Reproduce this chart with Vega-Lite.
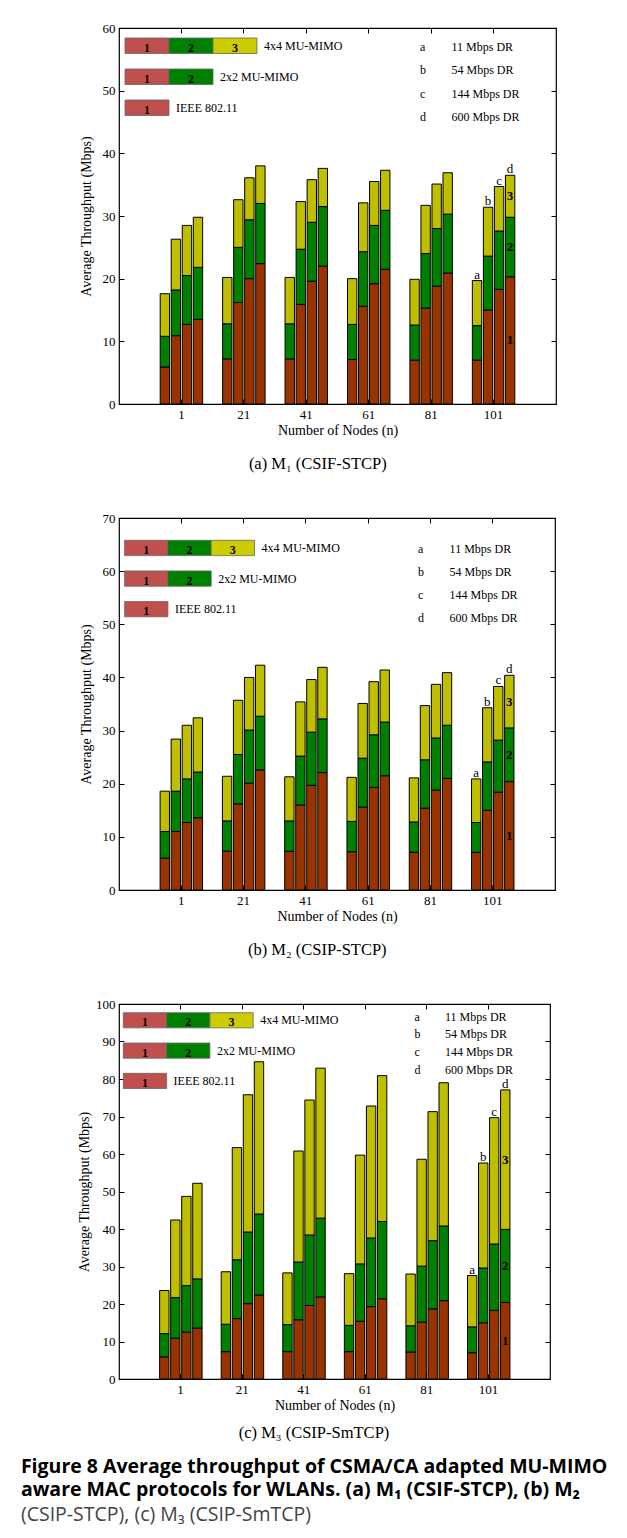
{
"$schema":"https://vega.github.io/schema/vega-lite/v6.json",
"background":"white",
"padding":{"left":20,"top":21,"right":5,"bottom":5},
"spacing":37,
"title":{"text":["Figure 8 Average throughput of CSMA/CA adapted MU-MIMO","aware MAC protocols for WLANs. (a) M₁ (CSIF-STCP), (b) M₂"],"subtitle":"(CSIP-STCP), (c) M₃ (CSIP-SmTCP)","orient":"bottom","anchor":"start","frame":"bounds","dx":-56,"offset":16,"font":"Open Sans","fontSize":19.5,"fontWeight":"bold","lineHeight":23,"color":"black","subtitleFont":"Open Sans","subtitleFontSize":19.5,"subtitleColor":"#444","subtitlePadding":5},
"vconcat":[
{"width":437,"height":376,
 "title":{"text":"(a)  M₁  (CSIF-STCP)","orient":"bottom","anchor":"middle","frame":"bounds","offset":19,"font":"Liberation Serif","fontSize":16.5,"fontWeight":"normal","color":"black"},
 "layer":[
  {"data":{"name":"tp"},"transform":[{"filter":"datum.p == 'a'"}],
   "layer":[
    {"transform":[{"fold":["1","2","3"],"as":["seg","v"]}],
     "mark":{"type":"bar","stroke":"black","strokeWidth":1},
     "encoding":{
      "x":{"field":"n","type":"ordinal","scale":{"paddingInner":0.32,"paddingOuter":0.66},"title":"Number of Nodes (n)","axis":{"labelAngle":0}},
      "xOffset":{"field":"dr","type":"nominal","scale":{"paddingInner":0.15}},
      "y":{"field":"v","type":"quantitative","stack":"zero","scale":{"domain":[0,60],"nice":false},"title":"Average Throughput (Mbps)","axis":{"values":[0,10,20,30,40,50,60],"titlePadding":9}},
      "color":{"field":"seg","type":"nominal","scale":{"domain":["1","2","3"],"range":["#993300","#008000","#BFBF00"]},"legend":null},
      "order":{"field":"seg","type":"ordinal"}}},
    {"transform":[{"filter":"datum.n == 101"},{"fold":["1","2","3"],"as":["seg","v"]},{"aggregate":[{"op":"sum","field":"v","as":"total"}],"groupby":["n","dr"]}],
     "mark":{"type":"text","baseline":"bottom","dy":1,"fontSize":13,"color":"black"},
     "encoding":{
      "x":{"field":"n","type":"ordinal","axis":{"orient":"top","labels":false,"title":null}},
      "xOffset":{"field":"dr","type":"nominal"},
      "y":{"field":"total","type":"quantitative","axis":{"orient":"right","labels":false,"title":null,"values":[0,10,20,30,40,50,60]}},
      "text":{"field":"dr"}}},
    {"transform":[{"filter":"datum.n == 101 && datum.dr == 'd'"},{"fold":["1","2","3"],"as":["seg","v"]}],
     "mark":{"type":"text","fontSize":13,"fontWeight":"bold","baseline":"middle","color":"black"},
     "encoding":{
      "x":{"field":"n","type":"ordinal","axis":null},
      "xOffset":{"field":"dr","type":"nominal"},
      "y":{"field":"v","type":"quantitative","stack":"zero","bandPosition":0.5,"axis":null},
      "detail":{"field":"seg"},
      "order":{"field":"seg","type":"ordinal"},
      "text":{"field":"seg"}}}
   ],
   "resolve":{"axis":{"x":"independent","y":"independent"}}},
  {"data":{"name":"protos"},
   "layer":[
    {"mark":{"type":"rect","stroke":"#666","strokeWidth":0.8},
     "encoding":{
      "x":{"field":"seg","type":"ordinal","scale":{"type":"band","domain":[1,2,3],"range":[6,138],"paddingInner":0,"paddingOuter":0},"axis":null},
      "y":{"field":"proto","type":"nominal","scale":{"type":"band","domain":["4x4 MU-MIMO","2x2 MU-MIMO","IEEE 802.11"],"range":[10,87.5],"paddingInner":0.5,"paddingOuter":0},"axis":null},
      "color":{"field":"seg","type":"nominal","scale":{"domain":[1,2,3],"range":["#C0504D","#008000","#CCCC00"]},"legend":null}}},
    {"mark":{"type":"text","fontWeight":"bold","fontSize":12,"dy":2,"color":"black"},
     "encoding":{"x":{"field":"seg","type":"ordinal","axis":null},"y":{"field":"proto","type":"nominal","axis":null},"text":{"field":"seg"}}},
    {"transform":[{"aggregate":[{"op":"max","field":"seg","as":"last"}],"groupby":["proto"]}],
     "mark":{"type":"text","align":"left","dx":7,"fontSize":12,"color":"black"},
     "encoding":{"x":{"field":"last","type":"ordinal","bandPosition":1,"axis":null},"y":{"field":"proto","type":"nominal","axis":null},"text":{"field":"proto"}}}
   ]},
  {"data":{"name":"rates"},"transform":[{"fold":["dr","rate"],"as":["col","txt"]}],
   "mark":{"type":"text","align":"left","baseline":"middle","fontSize":12,"color":"black"},
   "encoding":{
    "x":{"field":"col","type":"nominal","scale":{"type":"point","domain":["dr","rate"],"range":[301,332.5],"padding":0},"axis":null},
    "y":{"field":"dr","type":"nominal","scale":{"type":"point","domain":["a","b","c","d"],"range":[19.3,88.7],"padding":0},"axis":null},
    "text":{"field":"txt"}}}
 ],
 "resolve":{"scale":{"x":"independent","y":"independent","color":"independent"}}},
{"width":436,"height":372,
 "title":{"text":"(b)  M₂  (CSIP-STCP)","orient":"bottom","anchor":"middle","frame":"bounds","offset":19,"font":"Liberation Serif","fontSize":16.5,"fontWeight":"normal","color":"black"},
 "layer":[
  {"data":{"name":"tp"},"transform":[{"filter":"datum.p == 'b'"}],
   "layer":[
    {"transform":[{"fold":["1","2","3"],"as":["seg","v"]}],
     "mark":{"type":"bar","stroke":"black","strokeWidth":1},
     "encoding":{
      "x":{"field":"n","type":"ordinal","scale":{"paddingInner":0.32,"paddingOuter":0.66},"title":"Number of Nodes (n)","axis":{"labelAngle":0}},
      "xOffset":{"field":"dr","type":"nominal","scale":{"paddingInner":0.15}},
      "y":{"field":"v","type":"quantitative","stack":"zero","scale":{"domain":[0,70],"nice":false},"title":"Average Throughput (Mbps)","axis":{"values":[0,10,20,30,40,50,60,70],"titlePadding":9}},
      "color":{"field":"seg","type":"nominal","scale":{"domain":["1","2","3"],"range":["#993300","#008000","#BFBF00"]},"legend":null},
      "order":{"field":"seg","type":"ordinal"}}},
    {"transform":[{"filter":"datum.n == 101"},{"fold":["1","2","3"],"as":["seg","v"]},{"aggregate":[{"op":"sum","field":"v","as":"total"}],"groupby":["n","dr"]}],
     "mark":{"type":"text","baseline":"bottom","dy":1,"fontSize":13,"color":"black"},
     "encoding":{
      "x":{"field":"n","type":"ordinal","axis":{"orient":"top","labels":false,"title":null}},
      "xOffset":{"field":"dr","type":"nominal"},
      "y":{"field":"total","type":"quantitative","axis":{"orient":"right","labels":false,"title":null,"values":[0,10,20,30,40,50,60,70]}},
      "text":{"field":"dr"}}},
    {"transform":[{"filter":"datum.n == 101 && datum.dr == 'd'"},{"fold":["1","2","3"],"as":["seg","v"]}],
     "mark":{"type":"text","fontSize":13,"fontWeight":"bold","baseline":"middle","color":"black"},
     "encoding":{
      "x":{"field":"n","type":"ordinal","axis":null},
      "xOffset":{"field":"dr","type":"nominal"},
      "y":{"field":"v","type":"quantitative","stack":"zero","bandPosition":0.5,"axis":null},
      "detail":{"field":"seg"},
      "order":{"field":"seg","type":"ordinal"},
      "text":{"field":"seg"}}}
   ],
   "resolve":{"axis":{"x":"independent","y":"independent"}}},
  {"data":{"name":"protos"},
   "layer":[
    {"mark":{"type":"rect","stroke":"#666","strokeWidth":0.8},
     "encoding":{
      "x":{"field":"seg","type":"ordinal","scale":{"type":"band","domain":[1,2,3],"range":[5.6,135.5],"paddingInner":0,"paddingOuter":0},"axis":null},
      "y":{"field":"proto","type":"nominal","scale":{"type":"band","domain":["4x4 MU-MIMO","2x2 MU-MIMO","IEEE 802.11"],"range":[22.3,98.8],"paddingInner":0.5,"paddingOuter":0},"axis":null},
      "color":{"field":"seg","type":"nominal","scale":{"domain":[1,2,3],"range":["#C0504D","#008000","#CCCC00"]},"legend":null}}},
    {"mark":{"type":"text","fontWeight":"bold","fontSize":12,"dy":2,"color":"black"},
     "encoding":{"x":{"field":"seg","type":"ordinal","axis":null},"y":{"field":"proto","type":"nominal","axis":null},"text":{"field":"seg"}}},
    {"transform":[{"aggregate":[{"op":"max","field":"seg","as":"last"}],"groupby":["proto"]}],
     "mark":{"type":"text","align":"left","dx":7,"fontSize":12,"color":"black"},
     "encoding":{"x":{"field":"last","type":"ordinal","bandPosition":1,"axis":null},"y":{"field":"proto","type":"nominal","axis":null},"text":{"field":"proto"}}}
   ]},
  {"data":{"name":"rates"},"transform":[{"fold":["dr","rate"],"as":["col","txt"]}],
   "mark":{"type":"text","align":"left","baseline":"middle","fontSize":12,"color":"black"},
   "encoding":{
    "x":{"field":"col","type":"nominal","scale":{"type":"point","domain":["dr","rate"],"range":[299,330.6],"padding":0},"axis":null},
    "y":{"field":"dr","type":"nominal","scale":{"type":"point","domain":["a","b","c","d"],"range":[31.3,99.7],"padding":0},"axis":null},
    "text":{"field":"txt"}}}
 ],
 "resolve":{"scale":{"x":"independent","y":"independent","color":"independent"}}},
{"width":431,"height":375,
 "title":{"text":"(c)  M₃  (CSIP-SmTCP)","orient":"bottom","anchor":"middle","frame":"bounds","offset":13,"font":"Liberation Serif","fontSize":16.5,"fontWeight":"normal","color":"black"},
 "layer":[
  {"data":{"name":"tp"},"transform":[{"filter":"datum.p == 'c'"}],
   "layer":[
    {"transform":[{"fold":["1","2","3"],"as":["seg","v"]}],
     "mark":{"type":"bar","stroke":"black","strokeWidth":1},
     "encoding":{
      "x":{"field":"n","type":"ordinal","scale":{"paddingInner":0.32,"paddingOuter":0.66},"title":"Number of Nodes (n)","axis":{"labelAngle":0}},
      "xOffset":{"field":"dr","type":"nominal","scale":{"paddingInner":0.15}},
      "y":{"field":"v","type":"quantitative","stack":"zero","scale":{"domain":[0,100],"nice":false},"title":"Average Throughput (Mbps)","axis":{"values":[0,10,20,30,40,50,60,70,80,90,100],"titlePadding":4}},
      "color":{"field":"seg","type":"nominal","scale":{"domain":["1","2","3"],"range":["#993300","#008000","#BFBF00"]},"legend":null},
      "order":{"field":"seg","type":"ordinal"}}},
    {"transform":[{"filter":"datum.n == 101"},{"fold":["1","2","3"],"as":["seg","v"]},{"aggregate":[{"op":"sum","field":"v","as":"total"}],"groupby":["n","dr"]}],
     "mark":{"type":"text","baseline":"bottom","dy":1,"fontSize":13,"color":"black"},
     "encoding":{
      "x":{"field":"n","type":"ordinal","axis":{"orient":"top","labels":false,"title":null}},
      "xOffset":{"field":"dr","type":"nominal"},
      "y":{"field":"total","type":"quantitative","axis":{"orient":"right","labels":false,"title":null,"values":[0,10,20,30,40,50,60,70,80,90,100]}},
      "text":{"field":"dr"}}},
    {"transform":[{"filter":"datum.n == 101 && datum.dr == 'd'"},{"fold":["1","2","3"],"as":["seg","v"]}],
     "mark":{"type":"text","fontSize":13,"fontWeight":"bold","baseline":"middle","color":"black"},
     "encoding":{
      "x":{"field":"n","type":"ordinal","axis":null},
      "xOffset":{"field":"dr","type":"nominal"},
      "y":{"field":"v","type":"quantitative","stack":"zero","bandPosition":0.5,"axis":null},
      "detail":{"field":"seg"},
      "order":{"field":"seg","type":"ordinal"},
      "text":{"field":"seg"}}}
   ],
   "resolve":{"axis":{"x":"independent","y":"independent"}}},
  {"data":{"name":"protos"},
   "layer":[
    {"mark":{"type":"rect","stroke":"#666","strokeWidth":0.8},
     "encoding":{
      "x":{"field":"seg","type":"ordinal","scale":{"type":"band","domain":[1,2,3],"range":[4.3,134.2],"paddingInner":0,"paddingOuter":0},"axis":null},
      "y":{"field":"proto","type":"nominal","scale":{"type":"band","domain":["4x4 MU-MIMO","2x2 MU-MIMO","IEEE 802.11"],"range":[8.7,84.5],"paddingInner":0.5,"paddingOuter":0},"axis":null},
      "color":{"field":"seg","type":"nominal","scale":{"domain":[1,2,3],"range":["#C0504D","#008000","#CCCC00"]},"legend":null}}},
    {"mark":{"type":"text","fontWeight":"bold","fontSize":12,"dy":2,"color":"black"},
     "encoding":{"x":{"field":"seg","type":"ordinal","axis":null},"y":{"field":"proto","type":"nominal","axis":null},"text":{"field":"seg"}}},
    {"transform":[{"aggregate":[{"op":"max","field":"seg","as":"last"}],"groupby":["proto"]}],
     "mark":{"type":"text","align":"left","dx":7,"fontSize":12,"color":"black"},
     "encoding":{"x":{"field":"last","type":"ordinal","bandPosition":1,"axis":null},"y":{"field":"proto","type":"nominal","axis":null},"text":{"field":"proto"}}}
   ]},
  {"data":{"name":"rates"},"transform":[{"fold":["dr","rate"],"as":["col","txt"]}],
   "mark":{"type":"text","align":"left","baseline":"middle","fontSize":12,"color":"black"},
   "encoding":{
    "x":{"field":"col","type":"nominal","scale":{"type":"point","domain":["dr","rate"],"range":[295.5,326],"padding":0},"axis":null},
    "y":{"field":"dr","type":"nominal","scale":{"type":"point","domain":["a","b","c","d"],"range":[12.7,66],"padding":0},"axis":null},
    "text":{"field":"txt"}}}
 ],
 "resolve":{"scale":{"x":"independent","y":"independent","color":"independent"}}}
],
"datasets":{
"protos":[{"proto":"4x4 MU-MIMO","seg":1},{"proto":"4x4 MU-MIMO","seg":2},{"proto":"4x4 MU-MIMO","seg":3},{"proto":"2x2 MU-MIMO","seg":1},{"proto":"2x2 MU-MIMO","seg":2},{"proto":"IEEE 802.11","seg":1}],
"rates":[{"dr":"a","rate":"11 Mbps DR"},{"dr":"b","rate":"54 Mbps DR"},{"dr":"c","rate":"144 Mbps DR"},{"dr":"d","rate":"600 Mbps DR"}],
"tp":[
{"p":"a","n":1,"dr":"a","1":5.9,"2":4.9,"3":6.8},{"p":"a","n":1,"dr":"b","1":10.9,"2":7.3,"3":8.1},{"p":"a","n":1,"dr":"c","1":12.7,"2":7.8,"3":8.0},{"p":"a","n":1,"dr":"d","1":13.5,"2":8.3,"3":8.0},
{"p":"a","n":21,"dr":"a","1":7.2,"2":5.6,"3":7.4},{"p":"a","n":21,"dr":"b","1":16.2,"2":8.8,"3":7.6},{"p":"a","n":21,"dr":"c","1":20.0,"2":9.4,"3":6.7},{"p":"a","n":21,"dr":"d","1":22.4,"2":9.6,"3":6.0},
{"p":"a","n":41,"dr":"a","1":7.2,"2":5.6,"3":7.4},{"p":"a","n":41,"dr":"b","1":15.9,"2":8.8,"3":7.6},{"p":"a","n":41,"dr":"c","1":19.6,"2":9.4,"3":6.8},{"p":"a","n":41,"dr":"d","1":22.0,"2":9.5,"3":6.1},
{"p":"a","n":61,"dr":"a","1":7.1,"2":5.6,"3":7.3},{"p":"a","n":61,"dr":"b","1":15.6,"2":8.7,"3":7.8},{"p":"a","n":61,"dr":"c","1":19.2,"2":9.3,"3":7.0},{"p":"a","n":61,"dr":"d","1":21.5,"2":9.4,"3":6.4},
{"p":"a","n":81,"dr":"a","1":7.0,"2":5.6,"3":7.3},{"p":"a","n":81,"dr":"b","1":15.3,"2":8.7,"3":7.7},{"p":"a","n":81,"dr":"c","1":18.8,"2":9.2,"3":7.1},{"p":"a","n":81,"dr":"d","1":20.9,"2":9.4,"3":6.6},
{"p":"a","n":101,"dr":"a","1":7.0,"2":5.5,"3":7.2},{"p":"a","n":101,"dr":"b","1":15.0,"2":8.6,"3":7.8},{"p":"a","n":101,"dr":"c","1":18.3,"2":9.3,"3":7.1},{"p":"a","n":101,"dr":"d","1":20.3,"2":9.5,"3":6.7},
{"p":"b","n":1,"dr":"a","1":6.0,"2":5.0,"3":7.6},{"p":"b","n":1,"dr":"b","1":11.0,"2":7.6,"3":9.8},{"p":"b","n":1,"dr":"c","1":12.7,"2":8.2,"3":10.1},{"p":"b","n":1,"dr":"d","1":13.6,"2":8.6,"3":10.2},
{"p":"b","n":21,"dr":"a","1":7.3,"2":5.7,"3":8.4},{"p":"b","n":21,"dr":"b","1":16.2,"2":9.3,"3":10.2},{"p":"b","n":21,"dr":"c","1":20.1,"2":10.0,"3":9.9},{"p":"b","n":21,"dr":"d","1":22.6,"2":10.1,"3":9.6},
{"p":"b","n":41,"dr":"a","1":7.3,"2":5.7,"3":8.3},{"p":"b","n":41,"dr":"b","1":16.0,"2":9.2,"3":10.2},{"p":"b","n":41,"dr":"c","1":19.7,"2":10.0,"3":9.9},{"p":"b","n":41,"dr":"d","1":22.1,"2":10.1,"3":9.7},
{"p":"b","n":61,"dr":"a","1":7.2,"2":5.7,"3":8.3},{"p":"b","n":61,"dr":"b","1":15.6,"2":9.2,"3":10.3},{"p":"b","n":61,"dr":"c","1":19.3,"2":9.9,"3":10.0},{"p":"b","n":61,"dr":"d","1":21.5,"2":10.1,"3":9.8},
{"p":"b","n":81,"dr":"a","1":7.1,"2":5.7,"3":8.3},{"p":"b","n":81,"dr":"b","1":15.4,"2":9.1,"3":10.2},{"p":"b","n":81,"dr":"c","1":18.8,"2":9.8,"3":10.1},{"p":"b","n":81,"dr":"d","1":21.0,"2":10.0,"3":9.9},
{"p":"b","n":101,"dr":"a","1":7.1,"2":5.6,"3":8.2},{"p":"b","n":101,"dr":"b","1":15.0,"2":9.1,"3":10.2},{"p":"b","n":101,"dr":"c","1":18.4,"2":9.8,"3":10.1},{"p":"b","n":101,"dr":"d","1":20.4,"2":10.1,"3":9.9},
{"p":"c","n":1,"dr":"a","1":5.9,"2":6.2,"3":11.5},{"p":"c","n":1,"dr":"b","1":10.9,"2":10.8,"3":20.7},{"p":"c","n":1,"dr":"c","1":12.5,"2":12.4,"3":23.8},{"p":"c","n":1,"dr":"d","1":13.6,"2":13.1,"3":25.5},
{"p":"c","n":21,"dr":"a","1":7.3,"2":7.3,"3":14.0},{"p":"c","n":21,"dr":"b","1":16.1,"2":15.7,"3":29.9},{"p":"c","n":21,"dr":"c","1":20.1,"2":19.1,"3":36.6},{"p":"c","n":21,"dr":"d","1":22.4,"2":21.6,"3":40.6},
{"p":"c","n":41,"dr":"a","1":7.3,"2":7.2,"3":13.8},{"p":"c","n":41,"dr":"b","1":15.8,"2":15.4,"3":29.6},{"p":"c","n":41,"dr":"c","1":19.6,"2":18.8,"3":36.0},{"p":"c","n":41,"dr":"d","1":21.9,"2":21.0,"3":40.0},
{"p":"c","n":61,"dr":"a","1":7.3,"2":7.0,"3":13.8},{"p":"c","n":61,"dr":"b","1":15.4,"2":15.3,"3":29.0},{"p":"c","n":61,"dr":"c","1":19.3,"2":18.3,"3":35.2},{"p":"c","n":61,"dr":"d","1":21.4,"2":20.6,"3":38.9},
{"p":"c","n":81,"dr":"a","1":7.2,"2":7.0,"3":13.8},{"p":"c","n":81,"dr":"b","1":15.2,"2":14.9,"3":28.5},{"p":"c","n":81,"dr":"c","1":18.7,"2":18.2,"3":34.4},{"p":"c","n":81,"dr":"d","1":20.9,"2":19.9,"3":38.2},
{"p":"c","n":101,"dr":"a","1":7.0,"2":6.9,"3":13.7},{"p":"c","n":101,"dr":"b","1":15.0,"2":14.6,"3":28.0},{"p":"c","n":101,"dr":"c","1":18.3,"2":17.7,"3":33.7},{"p":"c","n":101,"dr":"d","1":20.4,"2":19.5,"3":37.2}
]},
"config":{
 "view":{"stroke":"black","strokeWidth":1.2},
 "axis":{"domain":false,"grid":false,"labelFont":"Liberation Serif","labelFontSize":13,"labelColor":"black","titleFont":"Liberation Serif","titleFontSize":14,"titleFontWeight":"normal","titleColor":"black","tickColor":"black","tickSize":-5,"labelPadding":9},
 "axisX":{"titlePadding":2},
 "text":{"font":"Liberation Serif","color":"black"}
}
}
